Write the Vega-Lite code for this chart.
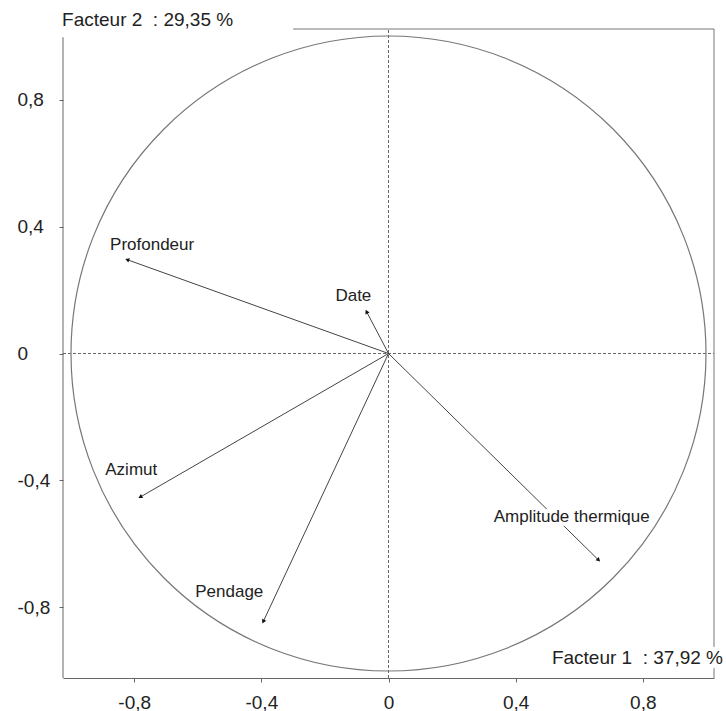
{
  "$schema": "https://vega.github.io/schema/vega-lite/v6.json",
  "width": 651,
  "height": 649,
  "autosize": "none",
  "padding": {"left": 63, "top": 29, "right": 12, "bottom": 33},
  "background": "white",
  "data": {"values": [{}]},
  "config": {
    "view": {"stroke": null},
    "font": "Liberation Sans",
    "axis": {
      "grid": false,
      "title": null,
      "domainColor": "#666",
      "tickColor": "#666",
      "tickSize": 4,
      "labelFont": "Liberation Sans",
      "labelFontSize": 19,
      "labelColor": "#222"
    }
  },
  "datasets": {
    "vars": [
      {"name": "Profondeur", "x": -0.822, "y": 0.296, "lx": -0.876, "ly": 0.343},
      {"name": "Date", "x": -0.069, "y": 0.132, "lx": -0.167, "ly": 0.18},
      {"name": "Azimut", "x": -0.781, "y": -0.453, "lx": -0.891, "ly": -0.369},
      {"name": "Pendage", "x": -0.394, "y": -0.846, "lx": -0.608, "ly": -0.753},
      {"name": "Amplitude thermique", "x": 0.661, "y": -0.652, "lx": 0.331, "ly": -0.517}
    ],
    "titles": [
      {"t": "Facteur 2\u00a0\u00a0: 29,35 %", "tx": -1.027, "ty": 1.052},
      {"t": "Facteur 1\u00a0\u00a0: 37,92 %", "tx": 0.514, "ty": -0.961}
    ]
  },
  "layer": [
    {
      "mark": {"type": "rule", "stroke": "#666", "strokeDash": [3, 2], "strokeWidth": 1},
      "encoding": {
        "x": {"datum": -1.024, "type": "quantitative", "scale": {"domain": [-1.024, 1.024]},
          "axis": {"values": [-0.8, -0.4, 0, 0.4, 0.8], "orient": "bottom", "labelPadding": 11, "labelExpr": "replace(toString(datum.value), '.', ',')"}},
        "x2": {"datum": 1.024},
        "y": {"datum": 0, "type": "quantitative", "scale": {"domain": [-1.024, 1.024]},
          "axis": {"values": [-0.8, -0.4, 0, 0.4, 0.8], "orient": "left", "domain": false, "labelAlign": "left", "labelPadding": 42, "labelExpr": "replace(toString(datum.value), '.', ',')"}}
      }
    },
    {
      "mark": {"type": "rule", "stroke": "#666", "strokeDash": [3, 2], "strokeWidth": 1},
      "encoding": {
        "x": {"datum": 0, "type": "quantitative", "scale": {"domain": [-1.024, 1.024]}},
        "y": {"datum": -1.024, "type": "quantitative", "scale": {"domain": [-1.024, 1.024]}},
        "y2": {"datum": 1.024}
      }
    },
    {
      "mark": {"type": "rule", "stroke": "#666", "strokeWidth": 1},
      "encoding": {
        "x": {"datum": -1.024, "type": "quantitative", "scale": {"domain": [-1.024, 1.024]}},
        "y": {"datum": -1.024, "type": "quantitative", "scale": {"domain": [-1.024, 1.024]}},
        "y2": {"datum": 0.998}
      }
    },
    {
      "mark": {"type": "rule", "stroke": "#777", "strokeWidth": 1},
      "encoding": {
        "x": {"datum": -0.3, "type": "quantitative", "scale": {"domain": [-1.024, 1.024]}},
        "x2": {"datum": 1.024},
        "y": {"datum": 1.024, "type": "quantitative", "scale": {"domain": [-1.024, 1.024]}}
      }
    },
    {
      "mark": {"type": "rule", "stroke": "#777", "strokeWidth": 1},
      "encoding": {
        "x": {"datum": 1.024, "type": "quantitative", "scale": {"domain": [-1.024, 1.024]}},
        "y": {"datum": 1.024, "type": "quantitative", "scale": {"domain": [-1.024, 1.024]}},
        "y2": {"datum": -1.024}
      }
    },
    {
      "mark": {"type": "point", "shape": "circle", "filled": false, "size": 403225, "stroke": "#777", "strokeWidth": 1.2, "opacity": 1},
      "encoding": {
        "x": {"datum": 0, "type": "quantitative", "scale": {"domain": [-1.024, 1.024]}},
        "y": {"datum": 0, "type": "quantitative", "scale": {"domain": [-1.024, 1.024]}}
      }
    },
    {
      "data": {"name": "vars"},
      "mark": {"type": "rule", "stroke": "#444", "strokeWidth": 1},
      "encoding": {
        "x": {"field": "x", "type": "quantitative", "scale": {"domain": [-1.024, 1.024]}},
        "y": {"field": "y", "type": "quantitative", "scale": {"domain": [-1.024, 1.024]}},
        "x2": {"datum": 0},
        "y2": {"datum": 0}
      }
    },
    {
      "data": {"name": "vars"},
      "transform": [{"calculate": "atan2(datum.x, datum.y) * 180 / PI", "as": "ang"}],
      "mark": {"type": "point", "shape": "triangle-up", "filled": true, "size": 22, "color": "#111", "opacity": 1},
      "encoding": {
        "x": {"field": "x", "type": "quantitative", "scale": {"domain": [-1.024, 1.024]}},
        "y": {"field": "y", "type": "quantitative", "scale": {"domain": [-1.024, 1.024]}},
        "angle": {"field": "ang", "type": "quantitative", "scale": null}
      }
    },
    {
      "data": {"name": "vars"},
      "mark": {"type": "text", "align": "left", "baseline": "middle", "fontSize": 17, "font": "Liberation Sans", "stroke": "white", "strokeWidth": 8, "fill": "white", "strokeJoin": "round"},
      "encoding": {
        "x": {"field": "lx", "type": "quantitative", "scale": {"domain": [-1.024, 1.024]}},
        "y": {"field": "ly", "type": "quantitative", "scale": {"domain": [-1.024, 1.024]}},
        "text": {"field": "name"}
      }
    },
    {
      "data": {"name": "vars"},
      "mark": {"type": "text", "align": "left", "baseline": "middle", "fontSize": 17, "font": "Liberation Sans", "fill": "#222"},
      "encoding": {
        "x": {"field": "lx", "type": "quantitative", "scale": {"domain": [-1.024, 1.024]}},
        "y": {"field": "ly", "type": "quantitative", "scale": {"domain": [-1.024, 1.024]}},
        "text": {"field": "name"}
      }
    },
    {
      "data": {"name": "titles"},
      "mark": {"type": "text", "align": "left", "baseline": "middle", "fontSize": 19, "font": "Liberation Sans", "stroke": "white", "strokeWidth": 10, "fill": "white", "strokeJoin": "round", "clip": false},
      "encoding": {
        "x": {"field": "tx", "type": "quantitative", "scale": {"domain": [-1.024, 1.024]}},
        "y": {"field": "ty", "type": "quantitative", "scale": {"domain": [-1.024, 1.024]}},
        "text": {"field": "t"}
      }
    },
    {
      "data": {"name": "titles"},
      "mark": {"type": "text", "align": "left", "baseline": "middle", "fontSize": 19, "font": "Liberation Sans", "fill": "#222", "clip": false},
      "encoding": {
        "x": {"field": "tx", "type": "quantitative", "scale": {"domain": [-1.024, 1.024]}},
        "y": {"field": "ty", "type": "quantitative", "scale": {"domain": [-1.024, 1.024]}},
        "text": {"field": "t"}
      }
    }
  ]
}
